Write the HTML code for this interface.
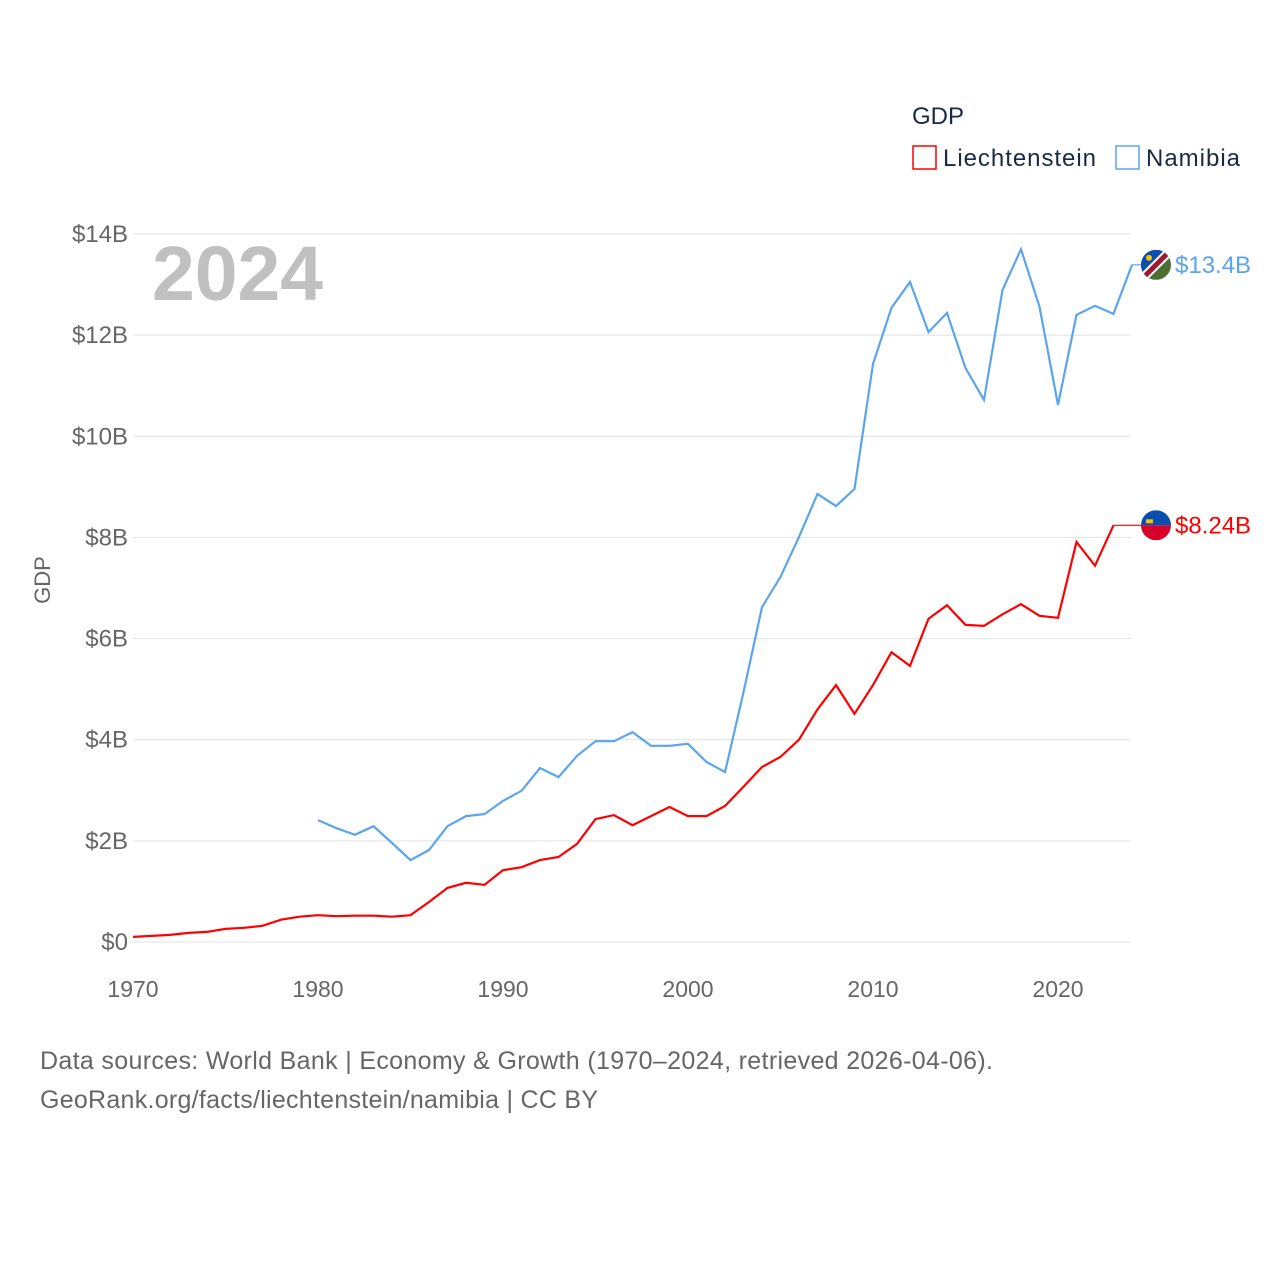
<!DOCTYPE html>
<html><head><meta charset="utf-8"><style>
body{margin:0;background:#fff;}
svg text{font-family:"Liberation Sans",sans-serif;}
</style></head><body>
<svg width="1280" height="1280" viewBox="0 0 1280 1280">
<g id="grid"></g>
<g id="yticks"></g>
<g id="xticks"></g>
<text x="152" y="300" font-size="77" font-weight="bold" fill="#c0c0c0" textLength="171">2024</text>
<text x="50" y="580" font-size="22" fill="#666" transform="rotate(-90 50 580)" text-anchor="middle">GDP</text>
<text x="912" y="124" font-size="24" fill="#1a2a44">GDP</text>
<g><rect x="913" y="146" width="23" height="23" fill="none" stroke="#ff0000" stroke-width="1.5"/><text x="943" y="166" font-size="24" fill="#1a2a44" textLength="153">Liechtenstein</text></g>
<g><rect x="1116" y="146" width="23" height="23" fill="none" stroke="#5aa5eb" stroke-width="1.5"/><text x="1146" y="166" font-size="24" fill="#1a2a44" textLength="94">Namibia</text></g>
<path id="nam" fill="none" stroke="#5aa5eb" stroke-width="2.2"/>
<path id="lie" fill="none" stroke="#ff0000" stroke-width="2.2"/>
<g id="labels"></g>
<text x="40" y="1069" font-size="25" fill="#666" textLength="953">Data sources: World Bank | Economy &amp; Growth (1970–2024, retrieved 2026-04-06).</text>
<text x="40" y="1108" font-size="25" fill="#666" textLength="558">GeoRank.org/facts/liechtenstein/namibia | CC BY</text>
</svg>
<script>
const yTicks=[0,2,4,6,8,10,12,14];
const yTickLabels=["$0","$2B","$4B","$6B","$8B","$10B","$12B","$14B"];
const xTicks=[1970,1980,1990,2000,2010,2020];
const lieYears=[1970,1971,1972,1973,1974,1975,1976,1977,1978,1979,1980,1981,1982,1983,1984,1985,1986,1987,1988,1989,1990,1991,1992,1993,1994,1995,1996,1997,1998,1999,2000,2001,2002,2003,2004,2005,2006,2007,2008,2009,2010,2011,2012,2013,2014,2015,2016,2017,2018,2019,2020,2021,2022,2023];
const lieValues=[0.10,0.12,0.14,0.18,0.20,0.26,0.28,0.32,0.44,0.50,0.53,0.51,0.52,0.52,0.50,0.53,0.79,1.07,1.17,1.13,1.42,1.48,1.62,1.68,1.94,2.43,2.51,2.31,2.49,2.67,2.49,2.49,2.69,3.07,3.46,3.66,4.00,4.60,5.08,4.51,5.08,5.73,5.46,6.39,6.66,6.27,6.25,6.48,6.68,6.45,6.41,7.91,7.44,8.24];
const namYears=[1980,1981,1982,1983,1984,1985,1986,1987,1988,1989,1990,1991,1992,1993,1994,1995,1996,1997,1998,1999,2000,2001,2002,2003,2004,2005,2006,2007,2008,2009,2010,2011,2012,2013,2014,2015,2016,2017,2018,2019,2020,2021,2022,2023,2024];
const namValues=[2.41,2.25,2.12,2.29,1.96,1.62,1.82,2.29,2.49,2.53,2.79,2.99,3.44,3.26,3.68,3.97,3.97,4.15,3.88,3.88,3.92,3.56,3.36,4.94,6.62,7.22,8.01,8.86,8.62,8.96,11.43,12.54,13.05,12.06,12.44,11.35,10.72,12.89,13.70,12.56,10.62,12.40,12.58,12.42,13.39];
const ns="http://www.w3.org/2000/svg";
const X=y=>133+(y-1970)*(1058-133)/50;
const Y=v=>942-v*(942-234)/14;
function mk(t,a,p){const e=document.createElementNS(ns,t);for(const k in a)e.setAttribute(k,a[k]);p.appendChild(e);return e;}
const grid=document.getElementById('grid'),yt=document.getElementById('yticks'),xt=document.getElementById('xticks');
yTicks.forEach((v,i)=>{
 const l=mk('line',{x1:133,x2:1131,y1:Y(v),y2:Y(v),stroke:'#e6e6e6','stroke-width':1.2},grid);
 
 
 const t=mk('text',{x:128,y:Y(v)+8,'font-size':24,fill:'#666','text-anchor':'end'},yt);
 t.textContent=yTickLabels[i];
 
 
});
xTicks.forEach(y=>{
 const t=mk('text',{x:X(y),y:997,'font-size':23,fill:'#666','text-anchor':'middle'},xt);
 t.textContent=y;
 
 
});
const path=(ys,vs)=>ys.map((y,i)=>(i?'L':'M')+X(y).toFixed(1)+','+Y(vs[i]).toFixed(1)).join('');
document.getElementById('nam').setAttribute('d',path(namYears,namValues));
document.getElementById('lie').setAttribute('d',path(lieYears,lieValues));
const lb=document.getElementById('labels');
function endLabel(ys,vs,color,txt,name,flag){
 const lx=X(ys[ys.length-1]),ly=Y(vs[vs.length-1]);
 mk('line',{x1:lx,y1:ly,x2:1142,y2:ly,stroke:color,'stroke-width':1.2},lb);
 const g=mk('g',{},lb);
 
 
 flag(g,1156,ly);
 const t=mk('text',{x:1175,y:ly+8,'font-size':24,fill:color},g);
 t.textContent=txt;
}
endLabel(namYears,namValues,'#5aa5eb','$13.4B','namibia-end-label',(g,cx,cy)=>{
 const c=mk('clipPath',{id:'cn'},g);mk('circle',{cx,cy,r:15},c);
 const f=mk('g',{'clip-path':'url(#cn)'},g);
 mk('rect',{x:cx-15,y:cy-15,width:30,height:30,fill:'#4a7034'},f);
 mk('polygon',{points:`${cx-15},${cy-15} ${cx+15},${cy-15} ${cx-15},${cy+15}`,fill:'#0a4fb0'},f);
 mk('line',{x1:cx-15,y1:cy+15,x2:cx+15,y2:cy-15,stroke:'#fff',"stroke-width":9},f);
 mk('line',{x1:cx-15,y1:cy+15,x2:cx+15,y2:cy-15,stroke:'#a01830',"stroke-width":5},f);
 mk('circle',{cx:cx-7,cy:cy-7,r:3,fill:'#f5c400'},f);
});
endLabel(lieYears,lieValues,'#ff0000','$8.24B','liechtenstein-end-label',(g,cx,cy)=>{
 const c=mk('clipPath',{id:'cl'},g);mk('circle',{cx,cy,r:15},c);
 const f=mk('g',{'clip-path':'url(#cl)'},g);
 mk('rect',{x:cx-15,y:cy-15,width:30,height:15,fill:'#0a4fb0'},f);
 mk('rect',{x:cx-15,y:cy,width:30,height:15,fill:'#d8002a'},f);
 mk('rect',{x:cx-10,y:cy-6,width:7,height:4,fill:'#f5c400'},f);
});
</script>
</body></html>
